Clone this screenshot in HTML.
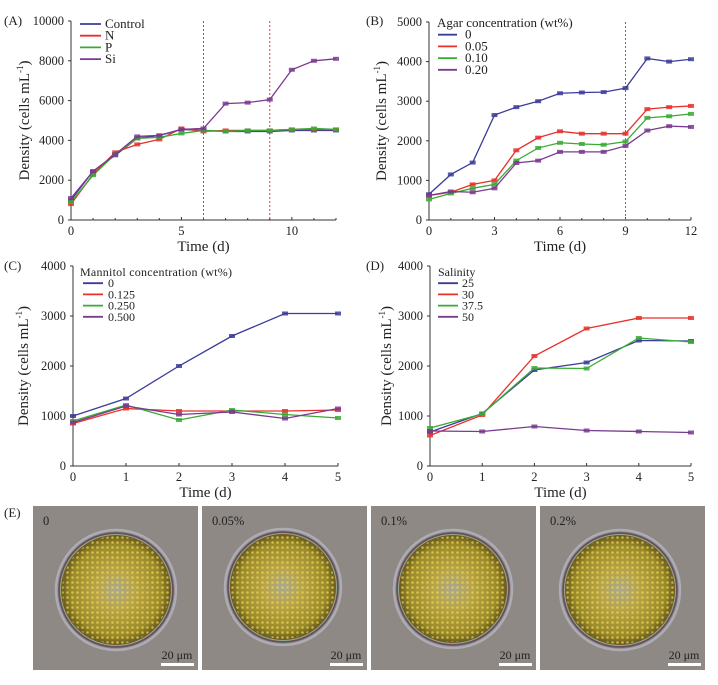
<!DOCTYPE html>
<html><head><meta charset="utf-8">
<style>
body{margin:0;background:#fff;width:718px;height:680px;overflow:hidden;font-family:"Liberation Serif",serif;}
svg text{font-family:"Liberation Serif",serif;fill:#222;}
</style></head>
<body>
<svg id="fig" width="718" height="680" viewBox="0 0 718 680" xmlns="http://www.w3.org/2000/svg">
<defs>
<radialGradient id="cellg" cx="50%" cy="50%" r="50%">
<stop offset="0" stop-color="#a8a890"/><stop offset="0.35" stop-color="#b8a448"/><stop offset="0.8" stop-color="#9a8a2a"/><stop offset="0.95" stop-color="#6a5c20"/><stop offset="1" stop-color="#7a6a40"/>
</radialGradient>
<pattern id="dots" width="5" height="5" patternUnits="userSpaceOnUse"><circle cx="2.5" cy="2.5" r="1.3" fill="#f0d850" opacity="0.7"/></pattern>
</defs>
<g id="charts"></g>
<g id="micro"></g>
</svg>
<script>
// ---- Panel A data ----
const aDays=[0,1,2,3,4,5,6,7,8,9,10,11,12];
const aControl=[1000,2450,3250,4100,4250,4550,4500,4450,4450,4450,4500,4500,4500];
const aN=[800,2300,3400,3800,4050,4600,4450,4500,4500,4500,4550,4550,4550];
const aP=[900,2250,3300,4100,4150,4350,4500,4450,4500,4500,4550,4600,4550];
const aSi=[1100,2450,3300,4200,4250,4550,4600,5850,5900,6050,7550,8000,8100];
const aXTicks=[0,5,10];
const aYTicks=[0,2000,4000,6000,8000,10000];
const aLegend=["Control","N","P","Si"];
const aVLines=[6,9];
// ---- Panel B data ----
const bDays=[0,1,2,3,4,5,6,7,8,9,10,11,12];
const b0=[650,1150,1450,2650,2850,3000,3200,3220,3230,3330,4080,4000,4060];
const b005=[620,700,900,1000,1760,2080,2240,2180,2180,2180,2800,2850,2880];
const b010=[520,670,800,900,1500,1820,1950,1920,1900,1980,2580,2620,2680];
const b020=[620,720,700,800,1440,1500,1720,1720,1720,1870,2260,2370,2350];
const bXTicks=[0,3,6,9,12];
const bYTicks=[0,1000,2000,3000,4000,5000];
const bLegend=["0","0.05","0.10","0.20"];
const bVLines=[9];
// ---- Panel C data ----
const cDays=[0,1,2,3,4,5];
const c0=[1000,1350,2000,2600,3050,3050];
const c0125=[850,1150,1100,1100,1100,1120];
const c0250=[900,1220,920,1120,1030,960];
const c0500=[870,1200,1030,1080,950,1150];
const cXTicks=[0,1,2,3,4,5];
const cYTicks=[0,1000,2000,3000,4000];
const cLegend=["0","0.125","0.250","0.500"];
// ---- Panel D data ----
const dDays=[0,1,2,3,4,5];
const d25=[680,1050,1920,2070,2510,2500];
const d30=[610,1020,2200,2750,2960,2960];
const d375=[760,1040,1960,1950,2560,2480];
const d50=[700,690,790,710,690,670];
const dXTicks=[0,1,2,3,4,5];
const dYTicks=[0,1000,2000,3000,4000];
const dLegend=["25","30","37.5","50"];

const COLORS=["#3c3c9a","#e8302a","#3aaa35","#7a3a8f"];
const NS="http://www.w3.org/2000/svg";
const root=document.getElementById('charts');
function mk(tag,attrs,parent,text){const e=document.createElementNS(NS,tag);for(const k in attrs){if(attrs[k]!==null)e.setAttribute(k,attrs[k]);}if(text!==undefined)e.textContent=text;(parent||root).appendChild(e);return e;}

function chart(cfg){
  const g=mk('g',{});
  
  
  const xs=v=>cfg.x0+(v-cfg.xmin)/(cfg.xmax-cfg.xmin)*(cfg.x1-cfg.x0);
  const ys=v=>cfg.y0-(v-cfg.ymin)/(cfg.ymax-cfg.ymin)*(cfg.y0-cfg.y1);
  const ax=mk('path',{d:`M${cfg.x0},${cfg.y1}V${cfg.y0}H${cfg.x1}`,stroke:'#333',fill:'none','stroke-width':1},g);
  
  
  cfg.yt.forEach(v=>{
    mk('line',{x1:cfg.x0-3,x2:cfg.x0,y1:ys(v),y2:ys(v),stroke:'#333'},g);
    const t=mk('text',{x:cfg.x0-7,y:ys(v)+4,'text-anchor':'end','font-size':12.5},g,String(v));
    
    
  });
  cfg.xt.forEach(v=>{
    mk('line',{x1:xs(v),x2:xs(v),y1:cfg.y0,y2:cfg.y0-3,stroke:'#333'},g);
    const t=mk('text',{x:xs(v),y:cfg.y0+15,'text-anchor':'middle','font-size':12.5},g,String(v));
    
    
  });
  if(cfg.minor) cfg.minor.forEach(v=>mk('line',{x1:xs(v),x2:xs(v),y1:cfg.y0,y2:cfg.y0-2,stroke:'#333'},g));
  const xt=mk('text',{x:(cfg.x0+cfg.x1)/2,y:cfg.y0+31,'text-anchor':'middle','font-size':15},g,'Time (d)');
  
  
  const yt=mk('text',{transform:`translate(${cfg.ytx},${(cfg.y0+cfg.y1)/2}) rotate(-90)`,'text-anchor':'middle','font-size':15},g);
  
  
  mk('tspan',{},yt,'Density (cells mL');mk('tspan',{dy:-6,'font-size':9},yt,'-1');mk('tspan',{dy:6},yt,')');
  const pl=mk('text',{x:cfg.lx,y:cfg.ly,'font-size':13},g,cfg.label);
  
  
  (cfg.vlines||[]).forEach(v=>{
    const l=mk('line',{x1:xs(v),x2:xs(v),y1:cfg.y1,y2:cfg.y0,stroke:'#e03a3a','stroke-dasharray':'2,2','stroke-width':1},g);
    
    
  });
  cfg.series.forEach((s,i)=>{
    const pts=s.map((v,j)=>xs(cfg.days[j])+','+ys(v)).join(' ');
    const p=mk('polyline',{points:pts,fill:'none',stroke:COLORS[i],'stroke-width':1.3},g);
    
    
    s.forEach((v,j)=>{
      const m=mk('rect',{x:xs(cfg.days[j])-3,y:ys(v)-2,width:6,height:4,fill:COLORS[i],opacity:0.85},g);
      
      
    });
  });
  if(cfg.ltitle){const t=mk('text',{x:cfg.lgx,y:cfg.lgy,'font-size':cfg.lfs,textLength:cfg.ltl||null},g,cfg.ltitle);
    
    }
  cfg.legend.forEach((n,i)=>{
    const y=cfg.lgy+(cfg.ltitle?cfg.lstep:0)+i*cfg.lstep;
    mk('line',{x1:cfg.lgx+cfg.lli,x2:cfg.lgx+cfg.lli+cfg.llen,y1:y-4,y2:y-4,stroke:COLORS[i],'stroke-width':1.8},g);
    const t=mk('text',{x:cfg.lgx+cfg.lli+cfg.llen+cfg.lgap,y:y,'font-size':cfg.lfs},g,n);
    
    
  });
}
chart({name:'chart-a-nutrients',label:'(A)',lx:4,ly:25,x0:71,x1:336,y0:220,y1:21,xmin:0,xmax:12,ymin:0,ymax:10000,
  days:aDays,series:[aControl,aN,aP,aSi],xt:aXTicks,yt:aYTicks,minor:[1,2,3,4,6,7,8,9,11,12],legend:aLegend,vlines:aVLines,
  ytx:29,lgx:80,lgy:28,lstep:11.7,lli:0,llen:21,lgap:4,lfs:13});
chart({name:'chart-b-agar',label:'(B)',lx:366,ly:25,x0:429,x1:691,y0:220,y1:22,xmin:0,xmax:12,ymin:0,ymax:5000,
  days:bDays,series:[b0,b005,b010,b020],xt:bXTicks,yt:bYTicks,minor:[1,2,4,5,7,8,10,11],legend:bLegend,vlines:bVLines,
  ytx:386,ltitle:'Agar concentration (wt%)',lgx:437,lgy:27,lstep:11.7,lli:1,llen:19,lgap:8,lfs:13});
chart({name:'chart-c-mannitol',label:'(C)',lx:4,ly:270,x0:73,x1:338,y0:466,y1:266,xmin:0,xmax:5,ymin:0,ymax:4000,
  days:cDays,series:[c0,c0125,c0250,c0500],xt:cXTicks,yt:cYTicks,legend:cLegend,
  ytx:28,ltitle:'Mannitol concentration (wt%)',ltl:152,lgx:80,lgy:276,lstep:11.2,lli:3,llen:20,lgap:5,lfs:12});
chart({name:'chart-d-salinity',label:'(D)',lx:366,ly:270,x0:430,x1:691,y0:466,y1:266,xmin:0,xmax:5,ymin:0,ymax:4000,
  days:dDays,series:[d25,d30,d375,d50],xt:dXTicks,yt:dYTicks,legend:dLegend,
  ytx:391,ltitle:'Salinity',lgx:438,lgy:276,lstep:11.2,lli:0,llen:20,lgap:4,lfs:12});

const mg=document.getElementById('micro');
const eLabel=mk('text',{x:4,y:517,'font-size':13},mg,'(E)');


const photoX=[33,202,371,540];
const photoLabels=["0","0.05%","0.1%","0.2%"];
const cellC=[[116,590,57],[283,587,55],[453,589,56],[620,590,57]];
photoX.forEach((x,i)=>{
  const r=mk('rect',{x:x,y:506,width:165,height:164,fill:'#8e8985'},mg);
  
  
  const [cx,cy,cr]=cellC[i];
  mk('circle',{cx:cx,cy:cy,r:cr+3,fill:'none',stroke:'#b8bcc8','stroke-width':2.5,opacity:0.7},mg);
  mk('circle',{cx:cx,cy:cy,r:cr,fill:'url(#cellg)',stroke:'#6a4a60','stroke-width':1.5},mg);
  mk('circle',{cx:cx,cy:cy,r:cr-3,fill:'url(#dots)'},mg);
  mk('circle',{cx:cx,cy:cy,r:cr-1.5,fill:'none',stroke:'#9ec8b8','stroke-width':1,opacity:0.7},mg);
  const t=mk('text',{x:x+10,y:525,'font-size':12.5},mg,photoLabels[i]);
  
  
  const s=mk('text',{x:x+144,y:659,'font-size':12,'text-anchor':'middle'},mg,'20 μm');
  
  
  mk('rect',{x:x+128,y:663,width:33,height:3,fill:'#fff'},mg);
});
</script>
</body></html>
